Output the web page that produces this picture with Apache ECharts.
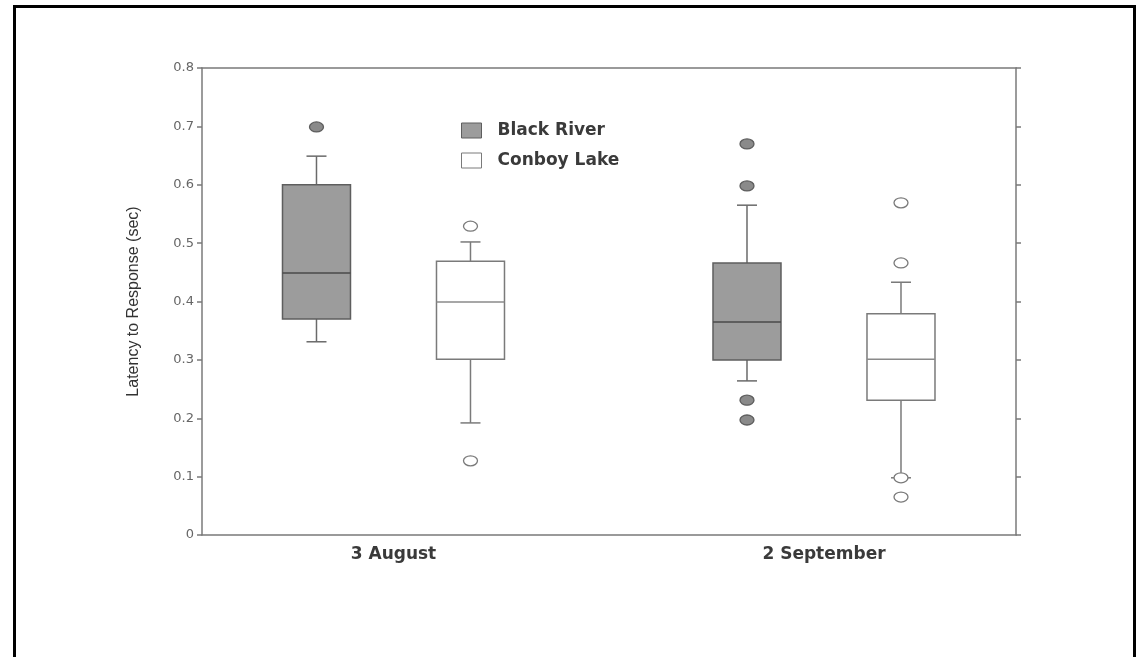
<!DOCTYPE html>
<html>
<head>
<meta charset="utf-8">
<title>Latency to Response</title>
<script src="https://cdn.jsdelivr.net/npm/echarts@6/dist/echarts.min.js"></script>
<style>
  html, body { margin: 0; padding: 0; background: #ffffff; }
  #chart { width: 1141px; height: 657px; }
</style>
</head>
<body>
<div id="chart"></div>
<script>
// Sampling dates (x categories)
const categories = ['3 August', '2 September'];
const siteNames = ['Black River', 'Conboy Lake'];

// Box statistics per date: [lower whisker, Q1, median, Q3, upper whisker]
const blackRiverBoxes = [
  [0.331, 0.370, 0.449, 0.600, 0.649],
  [0.264, 0.300, 0.365, 0.466, 0.565]
];
const conboyLakeBoxes = [
  [0.192, 0.301, 0.399, 0.469, 0.502],
  [0.098, 0.231, 0.301, 0.379, 0.433]
];

// Outliers: [date index, latency]
const blackRiverOutliers = [
  [0, 0.699],
  [1, 0.670], [1, 0.598], [1, 0.231], [1, 0.197]
];
const conboyLakeOutliers = [
  [0, 0.529], [0, 0.127],
  [1, 0.569], [1, 0.466], [1, 0.098], [1, 0.065]
];

// Y axis ticks
const yMin = 0, yMax = 0.8, yStep = 0.1;

// Layout / style constants
const BOX_OFFSET = 77;   // px from the date centre to each site's box
const BOX_WIDTH = 68;
const CAP_WIDTH = 20;
const AXIS_COLOR = '#7a7a7a';

const styles = {
  'Black River': { fill: '#9c9c9c', stroke: '#5e5e5e', median: '#4a4a4a', whisker: '#6a6a6a', dotFill: '#8a8a8a', dotStroke: '#5e5e5e' },
  'Conboy Lake': { fill: '#ffffff', stroke: '#7a7a7a', median: '#8a8a8a', whisker: '#7a7a7a', dotFill: '#ffffff', dotStroke: '#7a7a7a' }
};

function boxRenderer(offset, st) {
  return function (params, api) {
    const cat = api.value(0);
    const lo = api.value(1), q1 = api.value(2), med = api.value(3), q3 = api.value(4), hi = api.value(5);
    const cx = api.coord([cat, 0])[0] + offset;
    const y = v => api.coord([cat, v])[1];
    const hw = BOX_WIDTH / 2, hc = CAP_WIDTH / 2;
    const lineStyle = { stroke: st.whisker, lineWidth: 1.5 };
    return {
      type: 'group',
      children: [
        { type: 'line', shape: { x1: cx, y1: y(hi), x2: cx, y2: y(q3) }, style: lineStyle },
        { type: 'line', shape: { x1: cx - hc, y1: y(hi), x2: cx + hc, y2: y(hi) }, style: lineStyle },
        { type: 'line', shape: { x1: cx, y1: y(q1), x2: cx, y2: y(lo) }, style: lineStyle },
        { type: 'line', shape: { x1: cx - hc, y1: y(lo), x2: cx + hc, y2: y(lo) }, style: lineStyle },
        { type: 'rect', shape: { x: cx - hw, y: y(q3), width: BOX_WIDTH, height: y(q1) - y(q3) },
          style: { fill: st.fill, stroke: st.stroke, lineWidth: 1.5 } },
        { type: 'line', shape: { x1: cx - hw, y1: y(med), x2: cx + hw, y2: y(med) },
          style: { stroke: st.median, lineWidth: 1.5 } }
      ]
    };
  };
}

function outlierRenderer(offset, st) {
  return function (params, api) {
    const p = api.coord([api.value(0), api.value(1)]);
    return {
      type: 'ellipse',
      shape: { cx: p[0] + offset, cy: p[1], rx: 7, ry: 5 },
      style: { fill: st.dotFill, stroke: st.dotStroke, lineWidth: 1.3 }
    };
  };
}

// x positions: date index 0 and 1, mapped so each pair of boxes sits centred on its date
const xMin = -0.4448, xMax = 1.446;

const boxSets = [blackRiverBoxes, conboyLakeBoxes];
const outlierSets = [blackRiverOutliers, conboyLakeOutliers];
const offsets = [-BOX_OFFSET, BOX_OFFSET];

const series = [];
siteNames.forEach((name, i) => {
  const st = styles[name];
  series.push({
    name: name,
    type: 'custom',
    itemStyle: { color: st.fill, borderColor: st.stroke, borderWidth: 1 },
    renderItem: boxRenderer(offsets[i], st),
    encode: { x: 0, y: [1, 2, 3, 4, 5] },
    data: boxSets[i].map((b, k) => [k].concat(b)),
    z: 2
  });
  series.push({
    name: name,
    type: 'custom',
    itemStyle: { color: st.fill, borderColor: st.stroke, borderWidth: 1 },
    renderItem: outlierRenderer(offsets[i], st),
    encode: { x: 0, y: 1 },
    data: outlierSets[i],
    z: 3
  });
});

const frameLine = { show: true, onZero: false, lineStyle: { color: AXIS_COLOR, width: 1.5 } };

const chart = echarts.init(document.getElementById('chart'));
chart.setOption({
  backgroundColor: '#ffffff',
  animation: false,
  grid: { left: 202, top: 68, width: 814, height: 467, containLabel: false },
  legend: {
    orient: 'vertical',
    left: 461,
    top: 122,
    padding: 0,
    icon: 'rect',
    itemWidth: 20,
    itemHeight: 15,
    itemGap: 13,
    selectedMode: false,
    textStyle: {
      fontFamily: 'DejaVu Sans',
      fontSize: 17,
      fontWeight: 'bold',
      color: '#3a3a3a',
      lineHeight: 15,
      padding: [0, 0, 0, 11]
    },
    data: [
      { name: 'Black River', itemStyle: { color: '#9c9c9c', borderColor: '#5e5e5e', borderWidth: 1 } },
      { name: 'Conboy Lake', itemStyle: { color: '#ffffff', borderColor: '#7a7a7a', borderWidth: 1 } }
    ]
  },
  xAxis: [
    {
      type: 'value',
      position: 'bottom',
      min: xMin,
      max: xMax,
      splitLine: { show: false },
      axisTick: { show: false },
      axisLine: frameLine,
      axisLabel: {
        customValues: [0, 1],
        formatter: v => categories[Math.round(v)],
        margin: 11,
        fontFamily: 'DejaVu Sans',
        fontSize: 17,
        fontWeight: 'bold',
        color: '#3a3a3a'
      }
    },
    {
      type: 'value',
      position: 'top',
      min: xMin,
      max: xMax,
      splitLine: { show: false },
      axisTick: { show: false },
      axisLabel: { show: false },
      axisLine: frameLine
    }
  ],
  yAxis: [
    {
      type: 'value',
      position: 'left',
      min: yMin,
      max: yMax,
      interval: yStep,
      name: 'Latency to Response (sec)',
      nameLocation: 'middle',
      nameGap: 60,
      nameTextStyle: { fontFamily: 'Liberation Sans', fontSize: 16, color: '#333333' },
      splitLine: { show: false },
      axisLine: frameLine,
      axisTick: { show: true, inside: false, length: 5, lineStyle: { color: AXIS_COLOR, width: 1.5 } },
      axisLabel: {
        margin: 8,
        fontFamily: 'DejaVu Sans',
        fontSize: 13,
        color: '#666666',
        formatter: v => (v === 0 ? '0' : v.toFixed(1))
      }
    },
    {
      type: 'value',
      position: 'right',
      min: yMin,
      max: yMax,
      interval: yStep,
      splitLine: { show: false },
      axisLine: frameLine,
      axisTick: { show: true, inside: false, length: 5, lineStyle: { color: AXIS_COLOR, width: 1.5 } },
      axisLabel: { show: false }
    }
  ],
  graphic: [
    {
      type: 'rect',
      shape: { x: 14.5, y: 6.5, width: 1120, height: 700 },
      style: { fill: 'none', stroke: '#000000', lineWidth: 3 },
      silent: true,
      z: 10
    }
  ],
  series: series
});
</script>
</body>
</html>
